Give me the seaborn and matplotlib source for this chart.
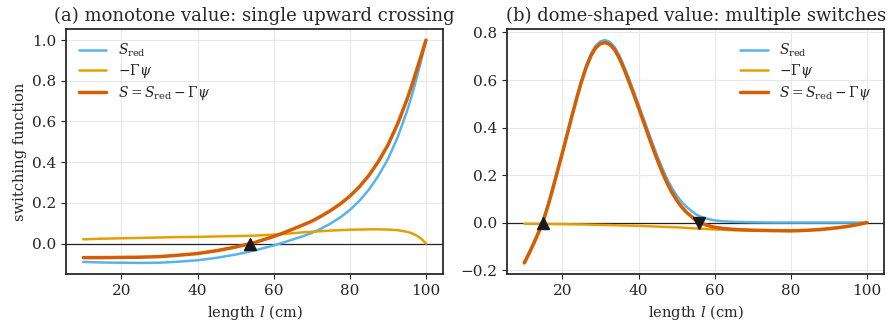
import matplotlib
matplotlib.use("Agg")
import matplotlib.pyplot as plt
import seaborn as sns

# (a) monotone value
x_a = [10, 15, 20, 25, 30, 35, 40, 45, 50, 55, 60, 62.5, 65, 67.5, 70, 72.5, 75, 77.5, 80,
       82.5, 85, 87.5, 90, 92.5, 95, 96.25, 97.5, 98.75, 100]
s_red_a = [-0.090, -0.093, -0.094, -0.095, -0.094, -0.089, -0.082, -0.070, -0.054, -0.034,
           -0.009, 0.005, 0.020, 0.035, 0.052, 0.074, 0.099, 0.129, 0.165, 0.210, 0.265, 0.333,
           0.415, 0.520, 0.650, 0.725, 0.810, 0.900, 1.000]
neg_gpsi_a = [0.021, 0.024, 0.026, 0.028, 0.030, 0.032, 0.033, 0.035, 0.037, 0.039, 0.044,
              0.047, 0.051, 0.055, 0.058, 0.061, 0.064, 0.066, 0.068, 0.069, 0.070, 0.070,
              0.069, 0.066, 0.058, 0.051, 0.040, 0.024, 0.000]
up_a = [53.7]

# (b) dome-shaped value
x_b = [10, 11.25, 12.5, 13.75, 15, 16.25, 17.5, 18.75, 20, 21.25, 22.5, 23.75, 25, 26.25,
       27.5, 28.75, 30, 31.25, 32.5, 33.75, 35, 36.25, 37.5, 38.75, 40, 41.25, 42.5, 43.75,
       45, 46.25, 47.5, 48.75, 50, 51.25, 52.5, 53.75, 55, 56.25, 57.5, 58.75, 60,
       62.5, 65, 67.5, 70, 72.5, 75, 77.5, 80, 82.5, 85, 87.5, 90, 92.5, 95, 97.5, 100]
s_red_b = [-0.165, -0.125, -0.082, -0.036, 0.014, 0.078, 0.150, 0.225, 0.300, 0.377, 0.455,
           0.530, 0.600, 0.662, 0.711, 0.745, 0.763, 0.768, 0.760, 0.738, 0.702, 0.656, 0.605,
           0.552, 0.497, 0.441, 0.385, 0.330, 0.277, 0.228, 0.184, 0.146, 0.114, 0.088, 0.067,
           0.051, 0.035, 0.025, 0.018, 0.013, 0.009,
           0.005, 0.003, 0.002, 0.001, 0.0005, 0.0, 0.0, 0.0, 0.0, 0.0, 0.0, 0.0, 0.0, 0.0,
           0.0, 0.0]
neg_gpsi_b = [-0.0050, -0.0052, -0.0055, -0.0058, -0.0060, -0.0062, -0.0065, -0.0068, -0.0070,
              -0.0072, -0.0075, -0.0078, -0.0080, -0.0085, -0.0090, -0.0095, -0.0100, -0.0105,
              -0.0108, -0.0113, -0.0120, -0.0125, -0.0130, -0.0135, -0.0140, -0.0148, -0.0155,
              -0.0163, -0.0170, -0.0178, -0.0185, -0.0193, -0.0200, -0.0212, -0.0225, -0.0238,
              -0.0250, -0.0260, -0.0270, -0.0280, -0.0290,
              -0.0305, -0.0320, -0.0327, -0.0333, -0.0337, -0.0340, -0.0345, -0.0350, -0.0340,
              -0.0320, -0.0295, -0.0260, -0.0215, -0.0160, -0.0090, 0.0]
up_b = [14.8]
down_b = [55.9]

sns.set_theme(style="ticks")
plt.rcParams["font.family"] = ["DejaVu Serif"]
plt.rcParams["mathtext.fontset"] = "dejavuserif"

C_RED = "#56B4E9"
C_PSI = "#E69F00"
C_S = "#D55E00"

fig, (ax1, ax2) = plt.subplots(1, 2, figsize=(8.94, 3.29), dpi=100)
fig.subplots_adjust(left=0.074, right=0.989, bottom=0.167, top=0.912, wspace=0.17)


def draw(ax, x, s_red, neg_gpsi, title, loc):
    s_tot = [a + b for a, b in zip(s_red, neg_gpsi)]
    ax.axhline(0, color="#222222", lw=0.9, zorder=1)
    sns.lineplot(x=x, y=s_red, ax=ax, color=C_RED, lw=1.8, label=r"$S_{\mathrm{red}}$")
    sns.lineplot(x=x, y=neg_gpsi, ax=ax, color=C_PSI, lw=1.8, label=r"$-\Gamma\psi$")
    sns.lineplot(x=x, y=s_tot, ax=ax, color=C_S, lw=2.5,
                 label=r"$S = S_{\mathrm{red}} - \Gamma\psi$")
    ax.set_title(title, fontsize=13)
    ax.set_xlabel(r"length $l$ (cm)", fontsize=10.5)
    ax.grid(True, color="#e8e8e8", lw=0.8)
    ax.tick_params(labelsize=11, length=3.5, width=0.8, color="#222222", direction="out")
    for sp in ax.spines.values():
        sp.set_color("#222222")
    ax.legend(loc=loc, frameon=False, fontsize=10, labelspacing=0.25, handlelength=2.0)


draw(ax1, x_a, s_red_a, neg_gpsi_a, "(a) monotone value: single upward crossing", "upper left")
draw(ax2, x_b, s_red_b, neg_gpsi_b, "(b) dome-shaped value: multiple switches", "upper right")
ax1.set_ylabel("switching function", fontsize=10.5)

ax1.plot(up_a, [0] * len(up_a), "^", color="k", ms=9, zorder=5)
ax2.plot(up_b, [0] * len(up_b), "^", color="k", ms=9, zorder=5)
ax2.plot(down_b, [0] * len(down_b), "v", color="k", ms=9, zorder=5)

fig.savefig("out.png", dpi=100)
